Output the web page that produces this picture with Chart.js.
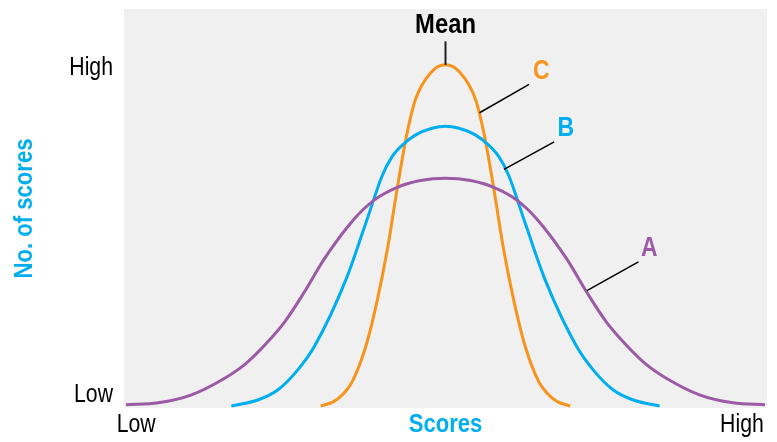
<!DOCTYPE html>
<html>
<head>
<meta charset="utf-8">
<script src="https://cdn.jsdelivr.net/npm/chart.js@4/dist/chart.umd.min.js"></script>
<style>
  html, body { margin: 0; padding: 0; background: #ffffff; }
  canvas { display: block; }
</style>
</head>
<body>
<canvas id="myChart" width="777" height="442"></canvas>
<script>
// Curve A (widest spread)
const aX = [0.3, 5.3, 10.5, 15.6, 18.7, 21.9, 25.0, 28.1, 31.2, 35.7, 38.9, 42.5, 46.1, 50, 53.9, 57.5, 61.1, 64.3, 68.8, 71.9, 75.0, 78.1, 81.3, 84.4, 89.5, 94.7, 99.7];
const aY = [0.8, 1.3, 3.3, 7.4, 10.8, 15.8, 21.6, 29.2, 37.5, 47.2, 52.1, 55.3, 57.0, 57.6, 57.0, 55.3, 52.1, 47.2, 37.5, 29.2, 21.6, 15.8, 10.8, 7.4, 3.3, 1.3, 0.8];

// Curve B
const bX = [16.7, 20.8, 23.9, 27.0, 29.6, 34.5, 37.6, 40.2, 41.7, 43.3, 45.3, 47.9, 50, 52.1, 54.7, 56.7, 58.3, 59.8, 62.4, 65.5, 70.4, 73.0, 76.1, 79.2, 83.3];
const bY = [0.5, 2.0, 4.5, 9.5, 15.4, 32.1, 46.3, 58.4, 63.0, 65.9, 68.4, 70.1, 70.6, 70.1, 68.4, 65.9, 63.0, 58.4, 46.3, 32.1, 15.4, 9.5, 4.5, 2.0, 0.5];

// Curve C (narrowest spread)
const cX = [30.6, 32.6, 34.2, 35.5, 37.6, 39.4, 41.0, 42.5, 44.0, 45.3, 47.7, 50, 52.3, 54.7, 56.0, 57.5, 59.0, 60.6, 62.4, 64.5, 65.8, 67.4, 69.4];
const cY = [0.5, 1.6, 3.7, 6.6, 15.4, 27.1, 40.1, 55.1, 68.7, 77.2, 84.0, 86.0, 84.0, 77.2, 68.7, 55.1, 40.1, 27.1, 15.4, 6.6, 3.7, 1.6, 0.5];

const seriesNames = ['A', 'B', 'C'];
const xTickValues = [1.9, 96.1];
const xTickLabels = ['Low', 'High'];
const yTickValues = [3.2, 85.3];
const yTickLabels = ['Low', 'High'];
const xTitle = 'Scores';
const yTitle = 'No. of scores';
const meanValue = 50;

const colors = { A: '#9c59a5', B: '#00aeef', C: '#f7941d' };
const fontFamily = "'Liberation Sans', Arial, sans-serif";

function toPoints(xs, ys) {
  return xs.map((x, i) => ({ x: x, y: ys[i] }));
}

// condensed text: squeeze the glyphs a little to look like a narrow face
function drawText(ctx, text, x, y, font, color, align, rotation) {
  ctx.save();
  ctx.translate(x, y);
  if (rotation) ctx.rotate(rotation);
  ctx.scale(0.85, 1);
  ctx.font = font;
  ctx.fillStyle = color;
  ctx.textAlign = align;
  ctx.textBaseline = 'middle';
  ctx.fillText(text, 0, 0);
  ctx.restore();
}

// grey plot area, axis labels, mean marker and curve labels
const decorations = {
  id: 'decorations',
  beforeDraw(chart) {
    const { ctx, chartArea } = chart;
    ctx.save();
    ctx.fillStyle = '#f0f0f0';
    ctx.fillRect(chartArea.left, chartArea.top, chartArea.right - chartArea.left, chartArea.bottom - chartArea.top);
    ctx.restore();
  },
  afterDatasetsDraw(chart) {
    const { ctx, chartArea } = chart;
    const xs = chart.scales.x;
    const ys = chart.scales.y;
    const px = v => xs.getPixelForValue(v);
    const py = v => ys.getPixelForValue(v);
    const regular = '25px ' + fontFamily;
    const bold = 'bold 27px ' + fontFamily;

    // axis ticks and titles
    yTickValues.forEach((v, i) => {
      drawText(ctx, yTickLabels[i], chartArea.left - 11, py(v), regular, '#000000', 'right');
    });
    xTickValues.forEach((v, i) => {
      drawText(ctx, xTickLabels[i], px(v), chartArea.bottom + 17, regular, '#000000', 'center');
    });
    drawText(ctx, xTitle, (chartArea.left + chartArea.right) / 2, chartArea.bottom + 17, 'bold 26px ' + fontFamily, '#00aeef', 'center');
    drawText(ctx, yTitle, 25, (chartArea.top + chartArea.bottom) / 2, 'bold 26px ' + fontFamily, '#00aeef', 'center', -Math.PI / 2);

    ctx.save();
    // mean marker
    ctx.strokeStyle = '#231f20';
    ctx.lineWidth = 2;
    ctx.beginPath();
    ctx.moveTo(px(meanValue), py(86));
    ctx.lineTo(px(meanValue), py(91.9));
    ctx.stroke();
    ctx.restore();
    drawText(ctx, 'Mean', px(meanValue), py(96), 'bold 28px ' + fontFamily, '#000000', 'center');

    // leader lines: [from x, from y, to x, to y, label x, label y]
    const leaders = {
      C: [55.3, 74.0, 63.0, 81.1, 64.9, 84.3],
      B: [59.1, 59.8, 66.9, 66.7, 68.7, 70.1],
      A: [72.0, 29.4, 80.0, 36.6, 81.7, 39.9]
    };
    seriesNames.forEach(name => {
      const l = leaders[name];
      ctx.save();
      ctx.lineWidth = 1.5;
      ctx.strokeStyle = '#000000';
      ctx.beginPath();
      ctx.moveTo(px(l[0]), py(l[1]));
      ctx.lineTo(px(l[2]), py(l[3]));
      ctx.stroke();
      ctx.restore();
      drawText(ctx, name, px(l[4]), py(l[5]), bold, colors[name], 'center');
    });
  }
};

const ctx = document.getElementById('myChart').getContext('2d');
const myChart = new Chart(ctx, {
  type: 'line',
  data: {
    datasets: [
      { label: 'A', data: toPoints(aX, aY), borderColor: colors.A },
      { label: 'B', data: toPoints(bX, bY), borderColor: colors.B },
      { label: 'C', data: toPoints(cX, cY), borderColor: colors.C }
    ]
  },
  options: {
    responsive: false,
    devicePixelRatio: 1,
    animation: false,
    layout: { padding: { top: 9, right: 10, left: 124, bottom: 34 } },
    elements: {
      point: { radius: 0 },
      line: { borderWidth: 3, cubicInterpolationMode: 'monotone', fill: false }
    },
    scales: {
      x: { type: 'linear', min: 0, max: 100, display: false },
      y: { type: 'linear', min: 0, max: 100, display: false }
    },
    plugins: {
      legend: { display: false },
      tooltip: { enabled: false }
    }
  },
  plugins: [decorations]
});
</script>
</body>
</html>
